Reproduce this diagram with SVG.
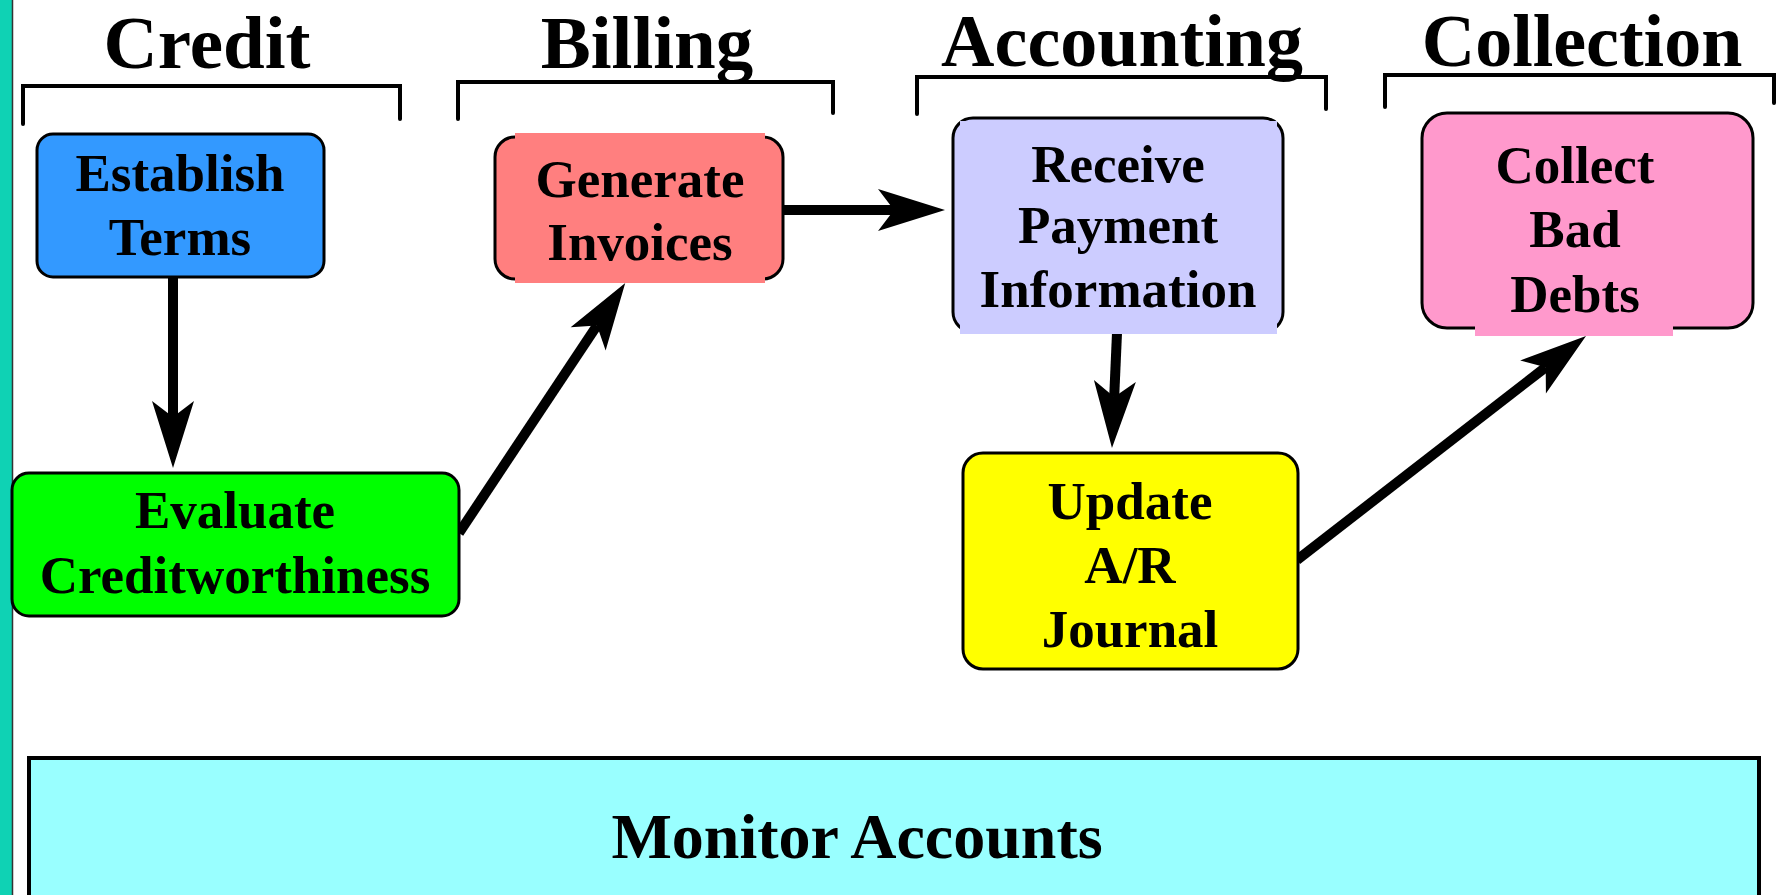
<svg xmlns="http://www.w3.org/2000/svg" width="1784" height="895" viewBox="0 0 1784 895">
<style>
text{font-family:"Liberation Serif","Times New Roman",serif;font-weight:bold;fill:#000;text-anchor:middle}
.title{font-size:75px}
.title2{font-size:74px}
.lbl{font-size:53px}
.box{stroke:#000;stroke-width:3}
.brk{fill:none;stroke:#000;stroke-width:4;stroke-linecap:round}
.arr{fill:none;stroke:#000;stroke-width:10;marker-end:url(#ah)}
</style>
<defs>
<marker id="ah" markerUnits="userSpaceOnUse" viewBox="-68 -22 70 44" markerWidth="70" markerHeight="44" refX="-51" refY="0" orient="auto">
<path d="M0,0 L-67,-21 L-51,0 L-67,21 Z" fill="#000"/>
</marker>
</defs>
<rect x="0" y="0" width="1784" height="895" fill="#fff"/>
<rect x="0" y="0" width="12" height="895" fill="#0FD2B4"/>
<line x1="12.5" y1="0" x2="12.5" y2="895" stroke="#333" stroke-width="1.5"/>

<g id="headers">
<text class="title" x="207" y="68">Credit</text>
<path class="brk" d="M23,124 V86 H400 V119"/>
<text class="title" x="647" y="68">Billing</text>
<path class="brk" d="M458,119 V82 H833 V113"/>
<text class="title2" x="1122" y="66">Accounting</text>
<path class="brk" d="M917,114 V77 H1326 V109"/>
<text class="title2" x="1582" y="66">Collection</text>
<path class="brk" d="M1385,107 V75 H1774 V103"/>
</g>

<g id="connectors">
<line class="arr" x1="173" y1="277" x2="173" y2="417"/>
<line class="arr" x1="459" y1="533" x2="597" y2="325.5"/>
<line class="arr" x1="783" y1="210" x2="894" y2="210"/>
<line class="arr" x1="1117" y1="333" x2="1114.2" y2="397"/>
<line class="arr" x1="1297" y1="560" x2="1545.7" y2="367.2"/>
</g>

<g id="establish-terms">
<rect class="box" x="37" y="134" width="287" height="143" rx="16" fill="#3399FF"/>
<text class="lbl" x="180" y="191">Establish</text>
<text class="lbl" x="180" y="255">Terms</text>
</g>

<g id="evaluate-creditworthiness">
<rect class="box" x="12" y="473" width="447" height="143" rx="17" fill="#00FF00"/>
<text class="lbl" x="235" y="528">Evaluate</text>
<text class="lbl" x="235" y="593">Creditworthiness</text>
</g>

<g id="generate-invoices">
<rect class="box" x="495" y="137" width="288" height="142" rx="20" fill="#FF7F7F"/>
<rect x="515" y="133" width="250" height="150" fill="#FF7F7F"/>
<text class="lbl" x="640" y="197">Generate</text>
<text class="lbl" x="640" y="260">Invoices</text>
</g>

<g id="receive-payment">
<rect class="box" x="953" y="118" width="330" height="214" rx="20" fill="#CCCCFF"/>
<rect x="960" y="121" width="317" height="213" fill="#CCCCFF"/>
<text class="lbl" x="1118" y="182">Receive</text>
<text class="lbl" x="1118" y="243">Payment</text>
<text class="lbl" x="1118" y="307">Information</text>
</g>

<g id="collect-bad-debts">
<rect class="box" x="1422" y="113" width="331" height="215" rx="25" fill="#FF99CC"/>
<rect x="1475" y="120" width="198" height="216" fill="#FF99CC"/>
<text class="lbl" x="1575" y="183">Collect</text>
<text class="lbl" x="1575" y="247">Bad</text>
<text class="lbl" x="1575" y="312">Debts</text>
</g>

<g id="update-ar-journal">
<rect class="box" x="963" y="453" width="335" height="216" rx="20" fill="#FFFF00"/>
<text class="lbl" x="1130" y="519">Update</text>
<text class="lbl" x="1130" y="583">A/R</text>
<text class="lbl" x="1130" y="647">Journal</text>
</g>

<g id="monitor-accounts">
<rect x="29" y="758" width="1730" height="150" fill="#99FFFF" stroke="#000" stroke-width="4"/>
<text x="857" y="858" style="font-size:64px">Monitor Accounts</text>
</g>
</svg>
